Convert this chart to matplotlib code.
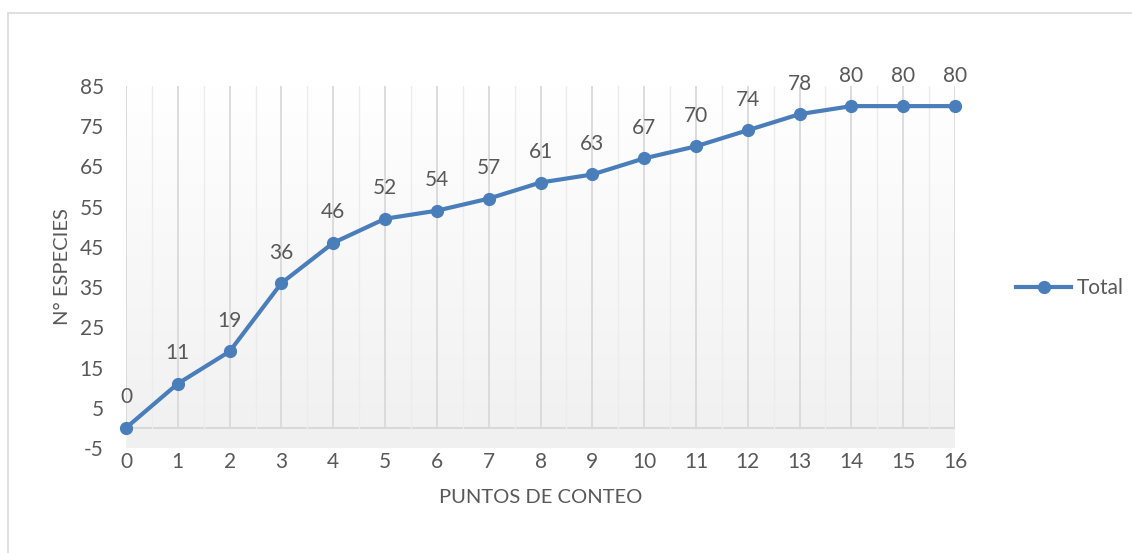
import matplotlib
matplotlib.use('Agg')
import matplotlib.pyplot as plt
import numpy as np
from matplotlib.colors import LinearSegmentedColormap
from matplotlib.patches import Rectangle

puntos = list(range(17))
especies = [0, 11, 19, 36, 46, 52, 54, 57, 61, 63, 67, 70, 74, 78, 80, 80, 80]
yticks = [-5, 5, 15, 25, 35, 45, 55, 65, 75, 85]

plt.rcParams['font.family'] = ['Lato', 'DejaVu Sans']
plt.rcParams['axes.unicode_minus'] = False
txt = '#595959'
blue = '#4a7ebb'
fs = 15

fig = plt.figure(figsize=(11.32, 5.53), dpi=100)
W, H = 1132, 553
ax = fig.add_axes([126 / W, 1 - 448 / H, (955 - 126) / W, (448 - 86) / H])

# chart border (runs off the right and bottom edges)
fig.patches.append(Rectangle((8 / W, -0.1), 1.2, 1 - 13 / H + 0.1,
                             transform=fig.transFigure, fill=False,
                             edgecolor='#d9d9d9', lw=1.2))

ax.set_xlim(0, 16)
ax.set_ylim(-5, 85)
for s in ax.spines.values():
    s.set_visible(False)

# back wall gradient + floor band
cmap = LinearSegmentedColormap.from_list('wall', ['#ffffff', '#f1f1f1'])
grad = np.linspace(0, 1, 256).reshape(-1, 1)
ax.imshow(grad, extent=[0, 16, 0, 85], cmap=cmap, aspect='auto', zorder=0)
ax.axhspan(-5, 0, color='#f0f0f0', lw=0, zorder=0)
ax.axhline(0, color='#d9d9d9', lw=1.5, zorder=1)

for x in np.arange(0.5, 16, 1):
    ax.plot([x, x], [0, 85], color='#ececec', lw=1.0, zorder=1)
for x in puntos:
    ax.plot([x, x], [0, 85], color='#d9d9d9', lw=1.3, zorder=1)

ax.plot(puntos, especies, color=blue, lw=3, marker='o', ms=8.5,
        label='Total', zorder=3, clip_on=False)

for x, y in zip(puntos, especies):
    ax.annotate(str(y), (x, y), xytext=(0, 22), textcoords='offset points',
                ha='center', va='center', fontsize=fs, color=txt)

ax.set_xticks(puntos)
ax.set_yticks(yticks)
ax.tick_params(length=0, labelsize=fs, labelcolor=txt)
ax.tick_params(axis='y', pad=16)
ax.tick_params(axis='x', pad=3)

ax.set_xlabel('PUNTOS DE CONTEO', fontsize=14.5, color=txt, labelpad=12)
ax.set_ylabel('N° ESPECIES', fontsize=14.5, color=txt, labelpad=6)

ax.legend(loc='center left', bbox_to_anchor=(1006 / W, 1 - 288 / H),
          bbox_transform=fig.transFigure, frameon=False, fontsize=fs,
          handlelength=2.6, handletextpad=0.3, borderpad=0, labelcolor=txt)

fig.savefig('out.png', dpi=100)
